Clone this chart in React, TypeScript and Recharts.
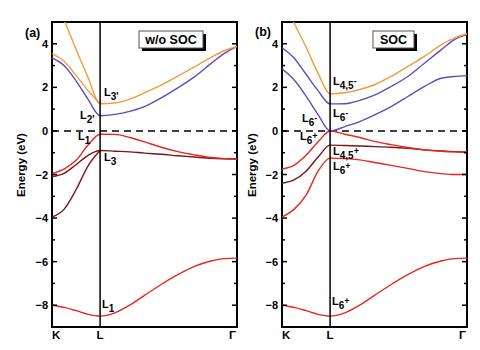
import React from 'react';
import { LineChart, Line, XAxis, YAxis, ReferenceLine, ReferenceArea } from 'recharts';

const FONT = 'Arial, "Liberation Sans", Helvetica, sans-serif';

// k-path coordinate: K = 0, L = 0.26, Γ = 1
const kPath = [0, 0.065, 0.13, 0.195, 0.26, 0.34, 0.42, 0.5, 0.59, 0.68, 0.77, 0.86, 0.93, 1.0];
const xTickPositions = [0, 0.26, 1];
const xTickLabels = ['K', 'L', 'Γ'];
const yMajorTicks = [-8, -6, -4, -2, 0, 2, 4];
const yMinorTicks = [-7, -5, -3, -1, 1, 3];
const yDomain: [number, number] = [-9, 5];
const lPoint = 0.26;

// Panel (a) w/o SOC bands (eV)
const aOrangeUpper = [6.4, 5.1, 3.75, 2.45, 1.25, 1.28, 1.46, 1.75, 2.1, 2.52, 2.94, 3.38, 3.68, 3.88];
const aOrangeLower = [3.55, 3.2, 2.55, 1.85, 1.25, null, null, null, null, null, null, null, null, null];
const aPurple = [3.35, 3.0, 2.3, 1.45, 0.7, 0.76, 0.9, 1.12, 1.52, 1.98, 2.48, 3.1, 3.55, 3.88];
const aRedTop = [-1.95, -1.75, -1.35, -0.65, -0.15, -0.16, -0.3, -0.5, -0.75, -0.95, -1.1, -1.22, -1.27, -1.29];
const aDarkUpper = [-2.1, -1.95, -1.55, -1.12, -0.9, -0.93, -0.96, -1.02, -1.07, -1.14, -1.2, -1.26, -1.28, -1.29];
const aDarkLower = [-3.95, -3.6, -2.7, -1.6, -0.9, null, null, null, null, null, null, null, null, null];
const aLowest = [-8.0, -8.1, -8.25, -8.42, -8.5, -8.35, -8.0, -7.55, -7.05, -6.6, -6.22, -5.97, -5.86, -5.84];

// Panel (b) SOC bands (eV)
const bOrangeUpper = [6.0, 4.95, 3.85, 2.65, 1.7, 1.75, 1.9, 2.12, 2.5, 2.96, 3.42, 3.95, 4.26, 4.46];
const bPurpleUpper = [3.82, 3.35, 2.6, 1.85, 1.24, 1.25, 1.4, 1.64, 2.04, 2.5, 3.11, 3.72, 4.18, 4.42];
const bPurpleLower = [2.85, 2.35, 1.6, 0.75, 0.0, 0.2, 0.43, 0.74, 1.12, 1.58, 2.04, 2.42, 2.5, 2.54];
const bRedTop = [-1.75, -1.58, -1.12, -0.5, 0.0, -0.15, -0.3, -0.48, -0.63, -0.76, -0.87, -0.93, -0.96, -0.97];
const bDark = [-2.4, -2.25, -1.85, -1.2, -0.65, -0.67, -0.69, -0.72, -0.75, -0.8, -0.87, -0.92, -0.95, -0.97];
const bRedL6 = [-3.95, -3.6, -2.95, -1.85, -1.25, -1.27, -1.33, -1.45, -1.58, -1.72, -1.87, -1.96, -2.0, -2.0];
const bLowest = [-8.0, -8.1, -8.25, -8.42, -8.5, -8.35, -8.0, -7.55, -7.05, -6.6, -6.22, -5.97, -5.86, -5.84];

const ORANGE = '#F39A3C';
const PURPLE = '#5E4DB8';
const RED = '#E6261F';
const DARK = '#7A1518';

type Band = { key: string; color: string; values: (number | null)[] };

const bandsA: Band[] = [
  { key: 'lowest', color: RED, values: aLowest },
  { key: 'darkLower', color: DARK, values: aDarkLower },
  { key: 'darkUpper', color: DARK, values: aDarkUpper },
  { key: 'redTop', color: RED, values: aRedTop },
  { key: 'purple', color: PURPLE, values: aPurple },
  { key: 'orangeLower', color: ORANGE, values: aOrangeLower },
  { key: 'orangeUpper', color: ORANGE, values: aOrangeUpper },
];

const bandsB: Band[] = [
  { key: 'lowest', color: RED, values: bLowest },
  { key: 'redL6', color: RED, values: bRedL6 },
  { key: 'dark', color: DARK, values: bDark },
  { key: 'redTop', color: RED, values: bRedTop },
  { key: 'purpleLower', color: PURPLE, values: bPurpleLower },
  { key: 'purpleUpper', color: PURPLE, values: bPurpleUpper },
  { key: 'orangeUpper', color: ORANGE, values: bOrangeUpper },
];

function buildRows(bands: Band[]) {
  return kPath.map((x, i) => {
    const row: Record<string, number | null> = { x };
    bands.forEach((b) => {
      row[b.key] = b.values[i];
    });
    return row;
  });
}

const allYTicks = [...yMajorTicks, ...yMinorTicks].sort((a, b) => a - b);

const fmt = (v: number) => (v < 0 ? '\u2212' + Math.abs(v) : String(v));

const LeftTick = (props: any) => {
  const { x, y, payload } = props;
  const v = payload.value as number;
  const major = yMajorTicks.includes(v);
  const ax = x + 4;
  return (
    <g>
      <line x1={ax} x2={ax + (major ? 5 : 3)} y1={y} y2={y} stroke="#000" strokeWidth={1.5} />
      {major && (
        <text x={x} y={y} dy={4} textAnchor="end" fontFamily={FONT} fontWeight="bold" fontSize={11} fill="#000">
          {fmt(v)}
        </text>
      )}
    </g>
  );
};

const RightTick = (props: any) => {
  const { x, y, payload } = props;
  const v = payload.value as number;
  const major = yMajorTicks.includes(v);
  return (
    <g>
      <line x1={x} x2={x - (major ? 5 : 3)} y1={y} y2={y} stroke="#000" strokeWidth={1.5} />
    </g>
  );
};

const XTick = (props: any) => {
  const { x, y, payload } = props;
  const idx = xTickPositions.indexOf(payload.value);
  const label = xTickLabels[idx] ?? '';
  const anchor = idx === 0 ? 'start' : idx === xTickPositions.length - 1 ? 'end' : 'middle';
  const dx = idx === 0 ? 0 : idx === xTickPositions.length - 1 ? -1 : 0;
  return (
    <text x={x + dx} y={y + 12} textAnchor={anchor} fontFamily={FONT} fontWeight="bold" fontSize={11.5} fill="#000">
      {label}
    </text>
  );
};

function Panel({ bands, left, yAxisWidth, marginRight }: { bands: Band[]; left: number; yAxisWidth: number; marginRight: number }) {
  const rows = buildRows(bands);
  return (
    <div style={{ position: 'absolute', left, top: 0 }}>
      <LineChart width={240} height={350} data={rows} margin={{ top: 22, right: marginRight, bottom: 0, left: 0 }}>
        <XAxis
          dataKey="x"
          type="number"
          domain={[0, 1]}
          ticks={xTickPositions}
          interval={0}
          height={23}
          tickSize={0}
          tickMargin={0}
          axisLine={false}
          tickLine={false}
          allowDataOverflow
          tick={(p: any) => <XTick {...p} />}
        />
        <YAxis
          yAxisId="l"
          type="number"
          domain={yDomain}
          ticks={allYTicks}
          interval={0}
          allowDataOverflow
          width={yAxisWidth}
          tickSize={0}
          tickMargin={4}
          axisLine={false}
          tickLine={false}
          tick={(p: any) => <LeftTick {...p} />}
        />
        <YAxis
          yAxisId="r"
          orientation="right"
          type="number"
          domain={yDomain}
          ticks={allYTicks}
          interval={0}
          allowDataOverflow
          width={2}
          tickSize={0}
          tickMargin={0}
          axisLine={false}
          tickLine={false}
          tick={(p: any) => <RightTick {...p} />}
        />
        <ReferenceLine yAxisId="l" y={0} stroke="#000" strokeWidth={1.6} strokeDasharray="7 5" />
        {bands.map((b) => (
          <Line
            key={b.key}
            yAxisId="l"
            dataKey={b.key}
            type="monotone"
            stroke={b.color}
            strokeWidth={1.4}
            dot={false}
            activeDot={false}
            connectNulls={false}
            isAnimationActive={false}
          />
        ))}
        <ReferenceLine yAxisId="l" x={lPoint} stroke="#000" strokeWidth={1.5} />
        <ReferenceArea
          yAxisId="l"
          x1={0}
          x2={1}
          y1={yDomain[0]}
          y2={yDomain[1]}
          fill="none"
          fillOpacity={0}
          stroke="#000"
          strokeWidth={2}
          ifOverflow="visible"
        />
      </LineChart>
    </div>
  );
}

const BandLabel = ({ x, y, sub, sup }: { x: number; y: number; sub: string; sup?: string }) => (
  <text x={x} y={y} fontFamily={FONT} fontWeight="bold" fontSize={11} fill="#000">
    L
    <tspan dy={4} fontSize={10}>
      {sub}
    </tspan>
    {sup ? (
      <tspan dy={-5} fontSize={9}>
        {sup}
      </tspan>
    ) : null}
  </text>
);

const LegendBox = ({ x, y, w, h, text }: { x: number; y: number; w: number; h: number; text: string }) => (
  <g>
    <rect x={x + 3} y={y + 3} width={w} height={h} fill="#000" />
    <rect x={x} y={y} width={w} height={h} fill="#fff" stroke="#555" strokeWidth={1} />
    <text x={x + w / 2} y={y + h / 2 + 4.5} textAnchor="middle" fontFamily={FONT} fontWeight="bold" fontSize={12.5} fill="#000">
      {text}
    </text>
  </g>
);

export default function App() {
  return (
    <div style={{ position: 'absolute', left: 0, top: 0, width: 480, height: 350, background: '#fff', overflow: 'hidden' }}>
      <Panel bands={bandsA} left={0} yAxisWidth={52} marginRight={1} />
      <Panel bands={bandsB} left={240} yAxisWidth={42} marginRight={11} />
      <svg width={480} height={350} style={{ position: 'absolute', left: 0, top: 0, pointerEvents: 'none' }}>
        <text x={25} y={37} fontFamily={FONT} fontWeight="bold" fontSize={12.5} fill="#000">(a)</text>
        <text x={255} y={36} fontFamily={FONT} fontWeight="bold" fontSize={12.5} fill="#000">(b)</text>
        <text x={25} y={165} transform="rotate(-90 25 165)" textAnchor="middle" fontFamily={FONT} fontWeight="bold" fontSize={11.5} fill="#000">
          Energy (eV)
        </text>
        <text x={256} y={165} transform="rotate(-90 256 165)" textAnchor="middle" fontFamily={FONT} fontWeight="bold" fontSize={11.5} fill="#000">
          Energy (eV)
        </text>
        <LegendBox x={139} y={31} w={64} h={17} text="w/o SOC" />
        <LegendBox x={373} y={31} w={41} h={17} text="SOC" />
        {/* panel (a) labels */}
        <BandLabel x={104} y={96} sub={"3'"} />
        <BandLabel x={80} y={119} sub={"2'"} />
        <BandLabel x={78} y={140} sub="1" />
        <BandLabel x={104} y={161} sub="3" />
        <BandLabel x={102} y={308} sub="1" />
        {/* panel (b) labels */}
        <BandLabel x={333} y={85} sub="4,5" sup="-" />
        <BandLabel x={333} y={117} sub="6" sup="-" />
        <BandLabel x={302} y={122} sub="6" sup="-" />
        <BandLabel x={300} y={140} sub="6" sup="+" />
        <BandLabel x={333} y={155} sub="4,5" sup="+" />
        <BandLabel x={333} y={170} sub="6" sup="+" />
        <BandLabel x={332} y={305} sub="6" sup="+" />
      </svg>
    </div>
  );
}
